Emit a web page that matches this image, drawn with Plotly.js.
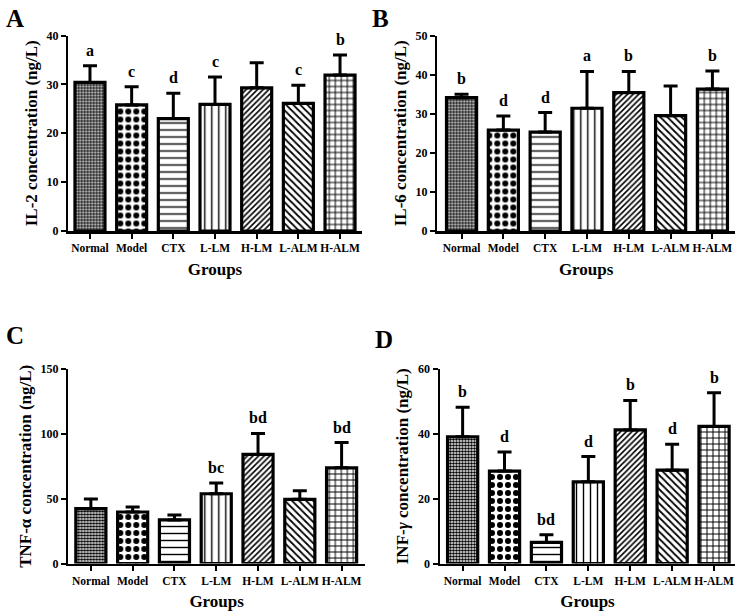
<!DOCTYPE html>
<html>
<head>
<meta charset="utf-8">
<script src="https://cdn.plot.ly/plotly-3.0.1.min.js"></script>
<style>html,body{margin:0;padding:0;background:#fff;}#chart{width:738px;height:614px;}</style>
</head>
<body>
<div id="chart"></div>
<script>
// ---- data ----
const groups = ["Normal", "Model", "CTX", "L-LM", "H-LM", "L-ALM", "H-ALM"];

const il2Mean = [30.4, 25.8, 23.0, 25.9, 29.3, 26.1, 31.9];
const il2SD   = [3.4, 3.7, 5.2, 5.6, 5.1, 3.7, 4.1];
const il2Sig  = ["a", "c", "d", "c", "", "c", "b"];

const il6Mean = [34.1, 25.8, 25.3, 31.4, 35.4, 29.5, 36.3];
const il6SD   = [0.9, 3.6, 5.0, 9.4, 5.4, 7.6, 4.6];
const il6Sig  = ["b", "d", "d", "a", "b", "", "b"];

const tnfMean = [42.3, 39.7, 33.6, 53.8, 84.1, 49.5, 73.8];
const tnfSD   = [7.4, 3.9, 3.8, 8.3, 16.2, 6.7, 19.5];
const tnfSig  = ["", "", "", "bc", "bd", "", "bd"];

const infMean = [39.1, 28.5, 6.5, 25.2, 41.2, 28.8, 42.3];
const infSD   = [9.1, 5.9, 2.4, 7.8, 9.1, 8.0, 10.4];
const infSig  = ["b", "d", "bd", "d", "b", "d", "b"];

// ---- styles ----
const FONT = "Liberation Serif, Times New Roman, serif";
const patShapes = [".", ".", "-", "|", "/", "\\", "+"];
const patSizes  = [3, 8, 7, 7, 4, 5, 6];
const patSolid  = [0.6, 0.45, 0.2, 0.2, 0.4, 0.35, 0.3];

const panels = [
  {mean: il2Mean, sd: il2SD, sig: il2Sig, title: "IL-2 concentration (ng/L)", yr: [0, 40], dt: 10,
   xd: [68.3, 361.7], xr: [-0.52, 6.52], yd: [231, 35.5], letter: "A", lx: 4, ly: 3},
  {mean: il6Mean, sd: il6SD, sig: il6Sig, title: "IL-6 concentration (ng/L)", yr: [0, 50], dt: 10,
   xd: [437.3, 735], xr: [-0.58, 6.54], yd: [231, 35.5], letter: "B", lx: 370, ly: 3},
  {mean: tnfMean, sd: tnfSD, sig: tnfSig, title: "TNF-α concentration (ng/L)", yr: [0, 150], dt: 50,
   xd: [68.3, 365], xr: [-0.54, 6.56], yd: [563.5, 369], letter: "C", lx: 4, ly: 320},
  {mean: infMean, sd: infSD, sig: infSig, title: "INF-<i>γ</i> concentration (ng/L)", yr: [0, 60], dt: 20,
   xd: [440, 735], xr: [-0.54, 6.5], yd: [563.5, 369], letter: "D", lx: 373, ly: 324}
];

const W = 738, H = 614;
const data = [];
const layout = {
  width: W, height: H,
  margin: {l: 0, r: 0, t: 0, b: 0},
  paper_bgcolor: "#fff", plot_bgcolor: "rgba(0,0,0,0)",
  showlegend: false,
  font: {family: FONT, color: "#000"},
  annotations: []
};

panels.forEach((p, i) => {
  const n = i === 0 ? "" : String(i + 1);
  const xa = "x" + n, ya = "y" + n;
  data.push({
    type: "bar",
    x: groups,
    y: p.mean,
    xaxis: xa, yaxis: ya,
    width: 0.72,
    marker: {
      color: "#fff",
      line: {color: "#000", width: 3.2},
      pattern: {shape: patShapes, size: patSizes, solidity: patSolid, fgcolor: "#000", fgopacity: 1, bgcolor: "#fff", fillmode: "overlay"}
    },
    error_y: {type: "data", symmetric: false, array: p.sd, arrayminus: p.sd.map(() => 0),
              color: "#000", thickness: 3, width: 7},
    hoverinfo: "skip"
  });
  const axX = {
    domain: [p.xd[0] / W, p.xd[1] / W],
    range: p.xr, type: "category",
    anchor: ya,
    showline: true, linewidth: 2.5, linecolor: "#000",
    ticks: "outside", ticklen: 5, tickwidth: 2, tickcolor: "#000",
    tickangle: 0,
    showgrid: false, zeroline: false,
    tickfont: {family: FONT, size: 11.5, weight: "bold", color: "#000"},
    title: {text: "Groups", font: {family: FONT, size: 17, weight: "bold", color: "#000"}, standoff: 10}
  };
  const axY = {
    domain: [1 - p.yd[0] / H, 1 - p.yd[1] / H],
    range: p.yr, dtick: p.dt, tick0: 0,
    anchor: xa,
    showline: true, linewidth: 2.5, linecolor: "#000",
    ticks: "outside", ticklen: 5, tickwidth: 2, tickcolor: "#000",
    showgrid: false, zeroline: false,
    tickfont: {family: FONT, size: 12, weight: "bold", color: "#000"},
    title: {text: p.title, font: {family: FONT, size: 17, weight: "bold", color: "#000"}, standoff: 5}
  };
  layout["xaxis" + n] = axX;
  layout["yaxis" + n] = axY;

  p.sig.forEach((s, j) => {
    if (!s) return;
    layout.annotations.push({
      xref: xa, yref: ya, x: groups[j], y: p.mean[j] + p.sd[j],
      text: s, showarrow: false, yanchor: "bottom", yshift: 5,
      font: {family: FONT, size: 16, weight: "bold", color: "#000"}
    });
  });
  layout.annotations.push({
    xref: "paper", yref: "paper", x: p.lx / W, y: 1 - p.ly / H,
    xanchor: "left", yanchor: "top", text: p.letter, showarrow: false,
    font: {family: FONT, size: 25, weight: "bold", color: "#000"}
  });
});

Plotly.newPlot("chart", data, layout, {displayModeBar: false, staticPlot: true});
</script>
</body>
</html>
